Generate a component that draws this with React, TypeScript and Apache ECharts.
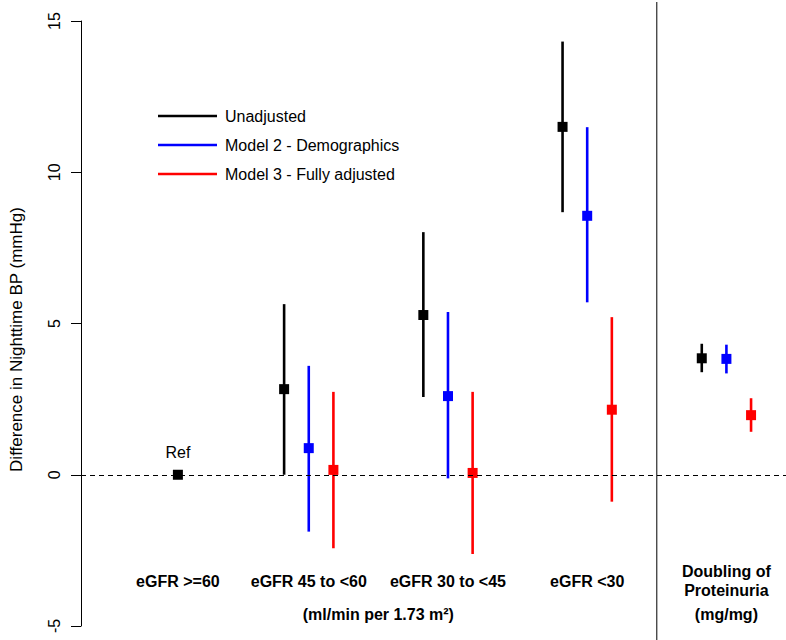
import React, { useEffect, useRef } from "react";
import * as echarts from "echarts";

const categories = ["eGFR >=60", "eGFR 45 to <60", "eGFR 30 to <45", "eGFR <30", "Doubling of\nProteinuria"];
const groupPos = [1.06, 2, 3, 4, 5];
const unitLabels = ["(ml/min per 1.73 m²)", "(mg/mg)"];
const unitPos = [2.5, 5];
const separatorX = 4.5;

const modelNames = ["Unadjusted", "Model 2 - Demographics", "Model 3 - Fully adjusted"];
const modelColors = ["#000000", "#0000ff", "#ff0000"];
const modelOffsets = [-0.177, 0, 0.177];

// estimates and 95% CI per group (null = not shown)
const unadjEst = [0, 2.83, 5.28, 11.5, 3.85];
const unadjLow = [null, 0.0, 2.57, 8.68, 3.39];
const unadjHigh = [null, 5.64, 8.02, 14.32, 4.33];

const m2Est = [null, 0.88, 2.6, 8.56, 3.83];
const m2Low = [null, -1.88, -0.12, 5.7, 3.35];
const m2High = [null, 3.6, 5.38, 11.49, 4.3];

const m3Est = [null, 0.16, 0.06, 2.15, 1.97];
const m3Low = [null, -2.43, -2.62, -0.89, 1.42];
const m3High = [null, 2.74, 2.74, 5.21, 2.53];

const yTicks = [-5, 0, 5, 10, 15];

const FONT = "Liberation Sans, Arial, Helvetica, sans-serif";

export default function App() {
  const ref = useRef<HTMLDivElement>(null);
  useEffect(() => {
    if (!ref.current) return;
    const chart = echarts.init(ref.current, undefined, { renderer: "svg" });
    const models = [
      { est: unadjEst, low: unadjLow, high: unadjHigh },
      { est: m2Est, low: m2Low, high: m2High },
      { est: m3Est, low: m3Low, high: m3High },
    ];
    const xOf = (g: number, m: number) => {
      const present = models.filter((md) => md.est[g] !== null).length;
      return groupPos[g] + (present > 1 ? modelOffsets[m] : 0);
    };
    const series: any[] = [];
    models.forEach((md, m) => {
      const whisk: any[] = [];
      md.est.forEach((_, g) => {
        if (md.low[g] !== null && md.high[g] !== null) whisk.push([xOf(g, m), md.low[g], md.high[g]]);
      });
      series.push({
        type: "custom",
        name: modelNames[m],
        itemStyle: { color: modelColors[m] },
        encode: { x: 0, y: [1, 2] },
        data: whisk,
        renderItem: (params: any, api: any) => {
          const x = api.value(0);
          const p1 = api.coord([x, api.value(1)]);
          const p2 = api.coord([x, api.value(2)]);
          return {
            type: "line",
            shape: { x1: p1[0], y1: p1[1], x2: p2[0], y2: p2[1] },
            style: { stroke: modelColors[m], lineWidth: 2.6 },
          };
        },
        z: 2,
      });
    });
    models.forEach((md, m) => {
      const pts: any[] = [];
      md.est.forEach((v, g) => {
        if (v === null) return;
        const item: any = { value: [xOf(g, m), v] };
        if (md.low[g] === null) {
          item.label = {
            show: true,
            formatter: "Ref",
            position: "top",
            distance: 9,
            fontSize: 16,
            fontFamily: FONT,
            color: "#000",
          };
        }
        pts.push(item);
      });
      const s: any = {
        type: "scatter",
        name: modelNames[m],
        symbol: "rect",
        symbolSize: 10,
        itemStyle: { color: modelColors[m], opacity: 1 },
        data: pts,
        z: 3,
      };
      if (m === 0) {
        s.markLine = {
          silent: true,
          symbol: "none",
          label: { show: false },
          lineStyle: { color: "#000", width: 1, type: [5, 4] },
          data: [{ yAxis: 0 }],
        };
      }
      series.push(s);
    });

    const labelFor = (v: number, pos: number[], labels: string[]) => {
      let best = 0;
      pos.forEach((p, i) => {
        if (Math.abs(p - v) < Math.abs(pos[best] - v)) best = i;
      });
      return labels[best];
    };

    chart.setOption({
      animation: false,
      grid: { left: 73, right: 0, top: 21, bottom: 14, containLabel: false },
      legend: {
        orient: "vertical",
        left: 153,
        top: 103,
        icon: "rect",
        itemWidth: 59,
        itemHeight: 2.6,
        itemGap: 13,
        selectedMode: false,
        data: modelNames.map((n, i) => ({ name: n, itemStyle: { color: modelColors[i] } })),
        textStyle: { fontSize: 16, fontFamily: FONT, color: "#000", lineHeight: 16, padding: [0, 0, 0, 3] },
      },
      xAxis: [
        {
          type: "value",
          position: "bottom",
          min: 0.364,
          max: 5.428,
          axisLine: { show: false },
          axisTick: { show: false },
          splitLine: { show: false },
          axisLabel: {
            customValues: groupPos,
            formatter: (v: number) => labelFor(v, groupPos, categories),
            margin: -45,
            verticalAlign: "middle",
            fontSize: 16,
            fontWeight: "bold",
            lineHeight: 19,
            fontFamily: FONT,
            color: "#000",
          },
        },
        {
          type: "value",
          position: "bottom",
          offset: 0,
          min: 0.364,
          max: 5.428,
          axisLine: { show: false },
          axisTick: { show: false },
          splitLine: { show: false },
          axisLabel: {
            customValues: unitPos,
            formatter: (v: number) => labelFor(v, unitPos, unitLabels),
            margin: -12,
            verticalAlign: "middle",
            fontSize: 16,
            fontWeight: "bold",
            fontFamily: FONT,
            color: "#000",
          },
        },
      ],
      yAxis: {
        type: "value",
        min: -5,
        max: 15,
        interval: 5,
        name: "Difference in Nighttime BP (mmHg)",
        nameLocation: "middle",
        nameRotate: 90,
        nameGap: 56,
        nameTextStyle: { fontSize: 17, fontFamily: FONT, color: "#000", padding: [0, 32, 0, 0] },
        axisLine: { show: true, lineStyle: { color: "#000", width: 1 } },
        axisTick: { show: true, length: 10, lineStyle: { color: "#000", width: 1 }, customValues: yTicks },
        splitLine: { show: false },
        axisLabel: {
          rotate: 90,
          margin: 19,
          fontSize: 16,
          fontFamily: FONT,
          color: "#000",
          customValues: yTicks,
        },
      },
      series,
    });

    const px = chart.convertToPixel({ xAxisIndex: 0 }, separatorX) as number;
    chart.setOption({
      graphic: [
        {
          type: "line",
          shape: { x1: px, y1: 2, x2: px, y2: 640 },
          style: { stroke: "#000", lineWidth: 1 },
          z: 1,
        },
      ],
    });

    return () => chart.dispose();
  }, []);
  return (
    <div
      ref={ref}
      style={{ position: "absolute", left: 0, top: 0, width: 786, height: 640, background: "#fff" }}
    />
  );
}
